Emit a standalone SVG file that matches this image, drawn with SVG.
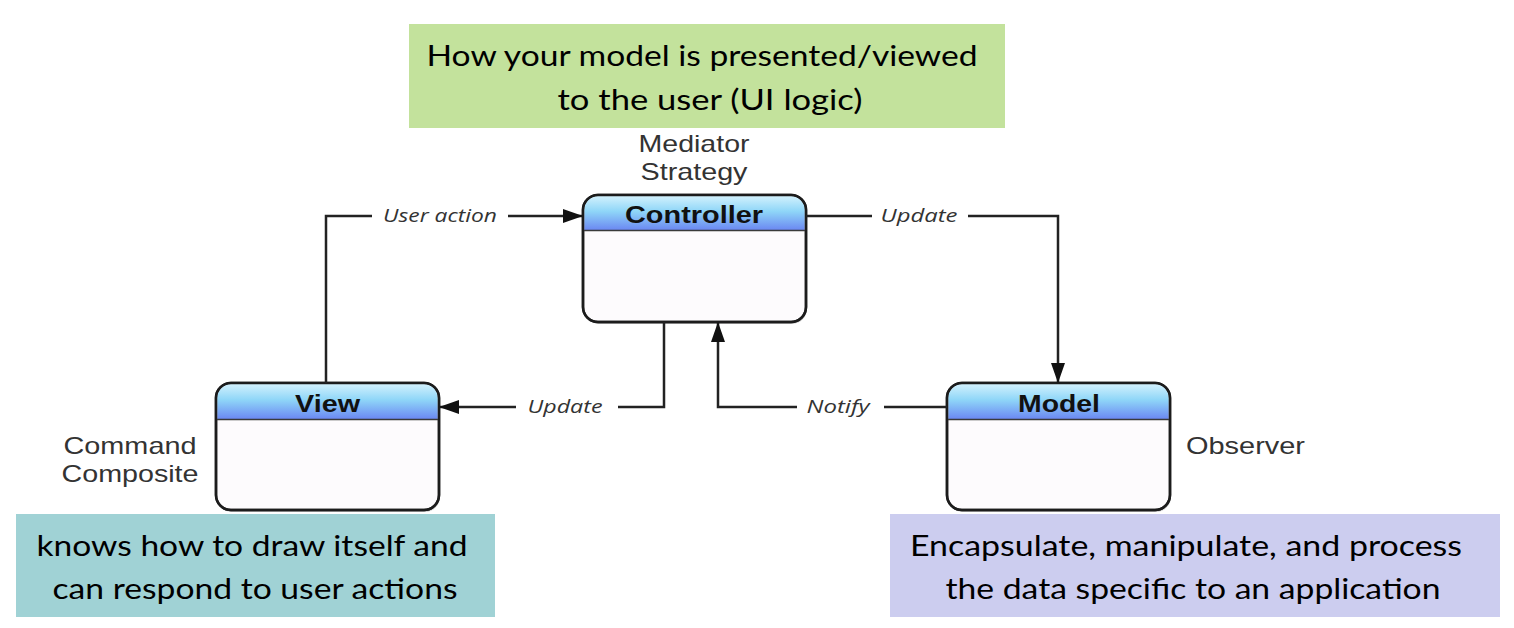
<svg xmlns="http://www.w3.org/2000/svg" width="1514" height="628" viewBox="0 0 1514 628">
<style>
.cal{font-family:Lato,"Open Sans","Liberation Sans",sans-serif;font-size:29px;fill:#000;text-anchor:middle}
.hv{font-family:"Liberation Sans",Arial,sans-serif;font-size:24px;fill:#333;text-anchor:middle}
.hdr{font-family:"Liberation Sans",Arial,sans-serif;font-size:24px;font-weight:bold;fill:#111;text-anchor:middle}
.lbl{font-family:"Open Sans","Liberation Sans",sans-serif;font-size:18px;font-style:italic;fill:#333;text-anchor:middle}
.body{fill:#fdfbfd;stroke:#1c1c1c;stroke-width:2.5}
.head{fill:url(#hg)}
.sep{stroke:#3a3a3a;stroke-width:1.5}
.edge{fill:none;stroke:#222;stroke-width:2.5}
.shadow{fill:#999;opacity:0.45}
</style>
<defs>
<linearGradient id="hg" x1="0" y1="0" x2="0" y2="1">
<stop offset="0" stop-color="#d2f1fd"/>
<stop offset="0.45" stop-color="#8fd6f8"/>
<stop offset="1" stop-color="#6b88f2"/>
</linearGradient>
<marker id="arr" viewBox="0 0 20 14" refX="19" refY="7" markerWidth="20" markerHeight="14" markerUnits="userSpaceOnUse" orient="auto">
<path d="M0,0 L20,7 L0,14 Z" fill="#111"/>
</marker>
</defs>
<rect width="1514" height="628" fill="#fff"/>

<g id="note-controller">
<rect x="409" y="24" width="596" height="104" fill="#c3e29c"/>
<text class="cal" x="702" y="66" textLength="551" lengthAdjust="spacingAndGlyphs">How your model is presented/viewed</text>
<text class="cal" x="710" y="110" textLength="305" lengthAdjust="spacingAndGlyphs">to the user (UI logic)</text>
</g>

<g id="note-view">
<rect x="16" y="514" width="479" height="103" fill="#a0d2d5"/>
<text class="cal" x="252" y="556" textLength="431" lengthAdjust="spacingAndGlyphs">knows how to draw itself and</text>
<text class="cal" x="255" y="599" textLength="405" lengthAdjust="spacingAndGlyphs">can respond to user actions</text>
</g>

<g id="note-model">
<rect x="890" y="514" width="610" height="103" fill="#cccdef"/>
<text class="cal" x="1186" y="556" textLength="552" lengthAdjust="spacingAndGlyphs">Encapsulate, manipulate, and process</text>
<text class="cal" x="1193" y="599" textLength="495" lengthAdjust="spacingAndGlyphs">the data specific to an application</text>
</g>

<g id="controller">
<rect class="shadow" x="584" y="197" width="223" height="127" rx="15"/>
<rect class="body" x="583" y="195" width="223" height="127" rx="15"/>
<path class="head" d="M584.3,230 V210 a14,14 0 0 1 14,-14 H790.7 a14,14 0 0 1 14,14 V230 Z"/>
<rect x="583" y="195" width="223" height="127" rx="15" fill="none" stroke="#1c1c1c" stroke-width="2.5"/>
<line class="sep" x1="584" y1="230.5" x2="805" y2="230.5"/>
<text class="hdr" x="694" y="223" textLength="138" lengthAdjust="spacingAndGlyphs">Controller</text>
<text class="hv" x="694" y="152" textLength="111" lengthAdjust="spacingAndGlyphs">Mediator</text>
<text class="hv" x="694" y="180" textLength="107" lengthAdjust="spacingAndGlyphs">Strategy</text>
</g>

<g id="view">
<rect class="shadow" x="217" y="385" width="223" height="127" rx="15"/>
<rect class="body" x="216" y="383" width="223" height="127" rx="15"/>
<path class="head" d="M217.3,419 V398 a14,14 0 0 1 14,-14 H423.7 a14,14 0 0 1 14,14 V419 Z"/>
<rect x="216" y="383" width="223" height="127" rx="15" fill="none" stroke="#1c1c1c" stroke-width="2.5"/>
<line class="sep" x1="217" y1="419.5" x2="438" y2="419.5"/>
<text class="hdr" x="327.5" y="412" textLength="65" lengthAdjust="spacingAndGlyphs">View</text>
<text class="hv" x="130" y="454" textLength="133" lengthAdjust="spacingAndGlyphs">Command</text>
<text class="hv" x="130" y="482" textLength="137" lengthAdjust="spacingAndGlyphs">Composite</text>
</g>

<g id="model">
<rect class="shadow" x="948" y="385" width="223" height="127" rx="15"/>
<rect class="body" x="947" y="383" width="223" height="127" rx="15"/>
<path class="head" d="M948.3,419 V398 a14,14 0 0 1 14,-14 H1154.7 a14,14 0 0 1 14,14 V419 Z"/>
<rect x="947" y="383" width="223" height="127" rx="15" fill="none" stroke="#1c1c1c" stroke-width="2.5"/>
<line class="sep" x1="948" y1="419.5" x2="1169" y2="419.5"/>
<text class="hdr" x="1059" y="412" textLength="82" lengthAdjust="spacingAndGlyphs">Model</text>
<text class="hv" x="1245.5" y="454" textLength="119" lengthAdjust="spacingAndGlyphs">Observer</text>
</g>

<g id="connectors">
<polyline class="edge" points="326,383 326,216 372,216"/>
<line class="edge" x1="508" y1="216" x2="582" y2="216" marker-end="url(#arr)"/>
<text class="lbl" x="440" y="222" textLength="114" lengthAdjust="spacingAndGlyphs">User action</text>

<line class="edge" x1="806" y1="216" x2="872" y2="216"/>
<polyline class="edge" points="968,216 1058,216 1058,382" marker-end="url(#arr)"/>
<text class="lbl" x="919" y="222" textLength="77" lengthAdjust="spacingAndGlyphs">Update</text>

<polyline class="edge" points="664,322 664,407 618,407"/>
<line class="edge" x1="516" y1="407" x2="440" y2="407" marker-end="url(#arr)"/>
<text class="lbl" x="565" y="413" textLength="75" lengthAdjust="spacingAndGlyphs">Update</text>

<line class="edge" x1="947" y1="407" x2="884" y2="407"/>
<polyline class="edge" points="797,407 718,407 718,323" marker-end="url(#arr)"/>
<text class="lbl" x="838" y="413" textLength="63" lengthAdjust="spacingAndGlyphs">Notify</text>
</g>
</svg>
